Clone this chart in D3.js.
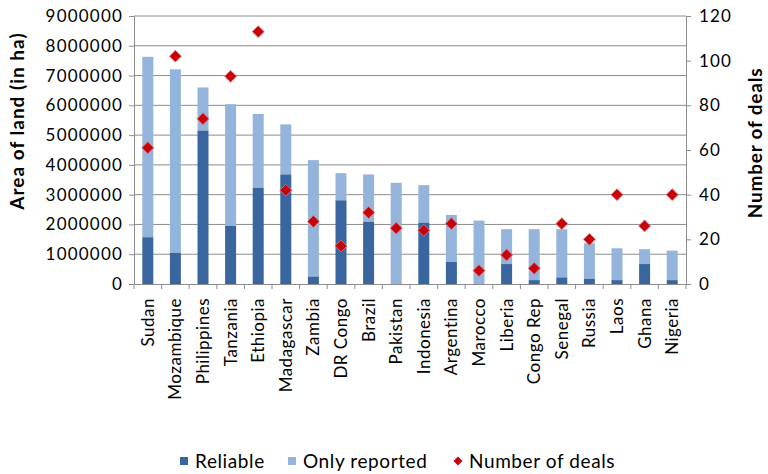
<!DOCTYPE html>
<html><head><meta charset="utf-8">
<script src="https://cdn.jsdelivr.net/npm/d3@7"></script>
<style>
html,body{margin:0;padding:0;background:#fff;}
svg text{font-family:"Lato","Open Sans",sans-serif;fill:#000;}
</style></head><body>
<svg id="chart" width="768" height="474"></svg>
<script>
const categories = ["Sudan","Mozambique","Philippines","Tanzania","Ethiopia","Madagascar","Zambia","DR Congo","Brazil","Pakistan","Indonesia","Argentina","Marocco","Liberia","Congo Rep","Senegal","Russia","Laos","Ghana","Nigeria"];
const reliable = [1570000,1050000,5150000,1950000,3230000,3680000,250000,2810000,2090000,0,2060000,740000,0,670000,130000,220000,170000,130000,670000,130000];
const totalArea = [7630000,7210000,6600000,6040000,5710000,5360000,4160000,3720000,3680000,3400000,3320000,2320000,2130000,1840000,1840000,1840000,1370000,1200000,1170000,1120000];
const deals = [61,102,74,93,113,42,28,17,32,25,24,27,6,13,7,27,20,40,26,40];
const leftTicks = [0,1000000,2000000,3000000,4000000,5000000,6000000,7000000,8000000,9000000];
const rightTicks = [0,20,40,60,80,100,120];
const legendLabels = ["Reliable","Only reported","Number of deals"];

const cats = categories;
const colReliable = "#3A66A0", colReported = "#95B4DB", colDeal = "#C8000A";
const svg = d3.select("#chart");
const L = 134, R = 686, T = 16, B = 284;
const x = d3.scaleBand().domain(cats).range([L, R]);
const y = d3.scaleLinear().domain([0, 9000000]).range([B, T]);
const y2 = d3.scaleLinear().domain([0, 120]).range([B, T]);
const bw = 11;
const fs = 17;

// gridlines
svg.append("g").selectAll("line").data(leftTicks.slice(1)).join("line")
  .attr("x1", L).attr("x2", R).attr("y1", d => y(d)).attr("y2", d => y(d))
  .attr("stroke", "#8c8c8c").attr("stroke-width", 1);

// bars
const data = cats.map((c, i) => ({c, rel: reliable[i], tot: totalArea[i], deals: deals[i]}));
svg.append("g").selectAll("rect").data(data).join("rect")
  .attr("x", d => x(d.c) + x.bandwidth()/2 - bw/2).attr("width", bw)
  .attr("y", d => y(d.tot)).attr("height", d => y(d.rel) - y(d.tot))
  .attr("fill", colReported);
svg.append("g").selectAll("rect").data(data).join("rect")
  .attr("x", d => x(d.c) + x.bandwidth()/2 - bw/2).attr("width", bw)
  .attr("y", d => y(d.rel)).attr("height", d => y(0) - y(d.rel))
  .attr("fill", colReliable);

// axes
const axisColor = "#8c8c8c";
const gl = svg.append("g").attr("transform", `translate(${L},0)`)
  .call(d3.axisLeft(y).tickValues(leftTicks).tickFormat(d3.format("d")).tickSize(5).tickPadding(6));
const gr = svg.append("g").attr("transform", `translate(${R},0)`)
  .call(d3.axisRight(y2).tickValues(rightTicks).tickSize(5).tickPadding(8));
const gb = svg.append("g").attr("transform", `translate(0,${B})`)
  .call(d3.axisBottom(x).tickSize(0).tickFormat(""));
[gl, gr, gb].forEach(g => {
  g.selectAll("path.domain").attr("stroke", axisColor);
  g.selectAll(".tick line").attr("stroke", axisColor);
  g.selectAll("text").attr("font-size", fs).attr("font-family", "Lato").attr("letter-spacing", "1.2px").attr("fill", "#000");
});
// category boundary ticks
const bounds = cats.map(c => x(c)).concat([R]);
svg.append("g").selectAll("line").data(bounds).join("line")
  .attr("x1", d => d).attr("x2", d => d).attr("y1", B).attr("y2", B + 5)
  .attr("stroke", axisColor);

// x labels
svg.append("g").selectAll("text").data(cats).join("text")
  .attr("transform", d => `translate(${x(d) + x.bandwidth()/2 + 6},${B + 14}) rotate(-90)`)
  .attr("text-anchor", "end").attr("font-size", fs).attr("letter-spacing", "0.5px")
  .text(d => d);

// diamonds
const sym = d3.symbol().type(d3.symbolSquare).size(70);
svg.append("g").selectAll("path").data(data).join("path")
  .attr("d", sym)
  .attr("transform", d => `translate(${x(d.c) + x.bandwidth()/2},${y2(d.deals)}) rotate(45)`)
  .attr("fill", colDeal).attr("stroke", "#E07070").attr("stroke-width", 0.8);

// axis titles
svg.append("text").attr("transform", "translate(24,121) rotate(-90)")
  .attr("text-anchor", "middle").attr("font-size", 19).attr("font-weight", "bold").attr("letter-spacing", "1px")
  .text("Area of land (in ha)");
svg.append("text").attr("transform", "translate(762,143) rotate(-90)")
  .attr("text-anchor", "middle").attr("font-size", 19).attr("font-weight", "bold").attr("letter-spacing", "0.8px")
  .text("Number of deals");

// legend
const lg = svg.append("g");
const legendX = [180, 288, 453];
legendLabels.forEach((lab, i) => {
  const g = lg.append("g").attr("transform", `translate(${legendX[i]},461)`);
  if (i < 2) {
    g.append("rect").attr("x", 0).attr("y", -4).attr("width", 8).attr("height", 8)
      .attr("fill", i === 0 ? colReliable : colReported);
  } else {
    g.append("path").attr("d", d3.symbol().type(d3.symbolSquare).size(40)())
      .attr("transform", "translate(5,0) rotate(45)").attr("fill", colDeal);
  }
  g.append("text").attr("x", i < 2 ? 15 : 16).attr("y", 7).attr("font-size", 19).attr("letter-spacing", "0.6px").text(lab);
});
</script>
</body></html>
